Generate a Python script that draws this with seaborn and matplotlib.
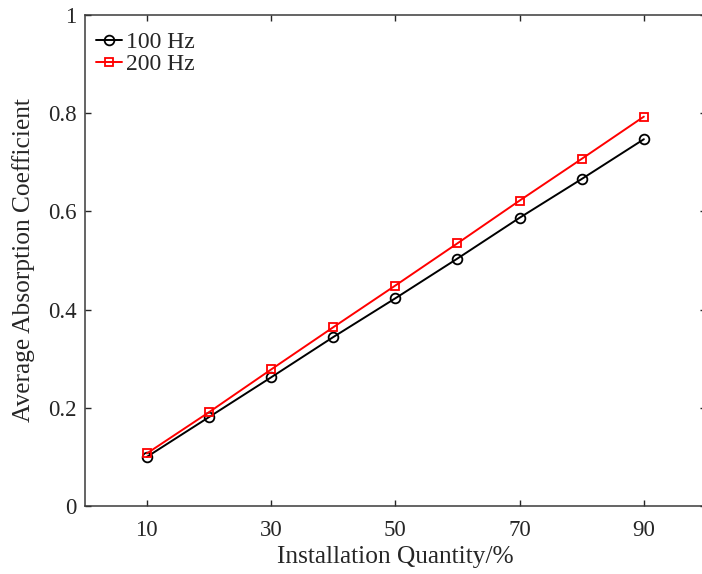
import matplotlib
matplotlib.use("Agg")
import matplotlib.pyplot as plt
import seaborn as sns
import pandas as pd

quantity = [10, 20, 30, 40, 50, 60, 70, 80, 90]
coef_100hz = [0.100, 0.181, 0.262, 0.344, 0.423, 0.504, 0.587, 0.666, 0.747]
coef_200hz = [0.107, 0.191, 0.278, 0.364, 0.449, 0.535, 0.622, 0.707, 0.793]
series_names = ["100 Hz", "200 Hz"]
x_ticks = [10, 30, 50, 70, 90]
y_ticks = [0, 0.2, 0.4, 0.6, 0.8, 1.0]
y_tick_labels = ["0", "0.2", "0.4", "0.6", "0.8", "1"]

df = pd.DataFrame({
    "q": quantity * 2,
    "v": coef_100hz + coef_200hz,
    "s": [series_names[0]] * len(quantity) + [series_names[1]] * len(quantity),
})

sns.set_style("ticks")
plt.rcParams["font.family"] = ["Liberation Serif", "DejaVu Serif"]

fig = plt.figure(figsize=(7.02, 5.74), dpi=100)
ax = fig.add_axes([0.1207, 0.1185, 0.885, 0.8554])

sns.lineplot(data=df, x="q", y="v", hue="s", style="s",
             palette={"100 Hz": "black", "200 Hz": "#ff0000"},
             markers={"100 Hz": "o", "200 Hz": "s"},
             dashes=False, ax=ax, linewidth=1.4, markersize=7,
             markerfacecolor="none", markeredgewidth=1.3)
for line in ax.get_lines():
    if line.get_marker() == "s":
        line.set_markersize(5.7)
    line.set_markerfacecolor("none")
    line.set_markeredgecolor(line.get_color())

ax.set_xlim(0, 100)
ax.set_ylim(0, 1)
ax.set_xticks(x_ticks)
ax.set_yticks(y_ticks)
ax.set_yticklabels(y_tick_labels)
ax.tick_params(direction="in", length=4, width=1.0, top=True, right=True,
               labelsize=16.5, colors="#262626", pad=10)
ax.tick_params(axis="y", pad=6)
for sp in ax.spines.values():
    sp.set_visible(True)
    sp.set_linewidth(1.1)
    sp.set_color("#3a3a3a")
ax.set_xlabel("Installation Quantity/%", fontsize=18.3, color="#262626", labelpad=4)
ax.set_ylabel("Average Absorption Coefficient", fontsize=18.3, color="#262626", labelpad=9)

leg = ax.legend(loc="upper left", bbox_to_anchor=(-0.008, 1.0), frameon=False,
                fontsize=17, handlelength=1.1, handletextpad=0.15,
                borderaxespad=0.5, labelspacing=0.03, borderpad=0.2)
for h in leg.get_lines():
    h.set_markerfacecolor("none")

fig.savefig("out.png", dpi=100)
